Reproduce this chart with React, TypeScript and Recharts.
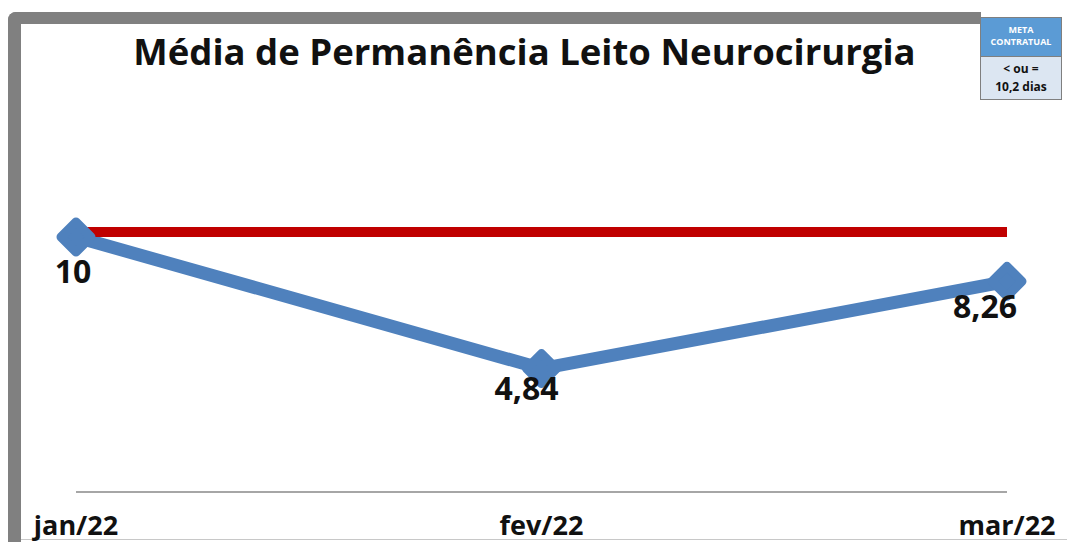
import React from "react";
import { LineChart, Line, XAxis, YAxis, LabelList } from "recharts";

const months = ["jan/22", "fev/22", "mar/22"];
const permanencia = [10, 4.84, 8.26];
const metaContratual = [10.2, 10.2, 10.2];

const data = months.map((m, i) => ({
  month: m,
  valor: permanencia[i],
  meta: metaContratual[i],
}));

const BLUE = "#4f81bd";
const RED = "#c00000";
const FONT = "'Open Sans', 'Liberation Sans', sans-serif";

// label nudges so they sit like the original Excel labels
const labelNudge = [
  { dx: -3, dy: 46 },
  { dx: -15, dy: 31 },
  { dx: -22, dy: 37 },
];

function Diamond(props: any) {
  const { cx, cy } = props;
  if (cx == null || cy == null) return null;
  const r = 15;
  return (
    <polygon
      points={`${cx},${cy - r} ${cx + r},${cy} ${cx},${cy + r} ${cx - r},${cy}`}
      fill={BLUE}
      stroke={BLUE}
      strokeWidth={9}
      strokeLinejoin="round"
    />
  );
}

function ValueLabel(props: any) {
  const { x, y, value, index } = props;
  const n = labelNudge[index] ?? { dx: 0, dy: 30 };
  return (
    <text
      x={x + n.dx}
      y={y + n.dy}
      textAnchor="middle"
      fontFamily={FONT}
      fontWeight={700}
      fontSize={32}
      fill="#111"
    >
      {String(value).replace(".", ",")}
    </text>
  );
}

function MonthTick(props: any) {
  const { x, y, payload } = props;
  return (
    <text
      x={x}
      y={y + 43}
      textAnchor="middle"
      fontFamily={FONT}
      fontWeight={700}
      fontSize={27}
      fill="#111"
    >
      {payload.value}
    </text>
  );
}

export default function App() {
  return (
    <div
      style={{
        position: "absolute",
        left: 0,
        top: 0,
        width: 1067,
        height: 542,
        background: "#fff",
        overflow: "hidden",
      }}
    >
      {/* grey frame */}
      <div
        style={{
          position: "absolute",
          left: 8,
          top: 12,
          width: 973,
          height: 540,
          borderLeft: "13px solid #808080",
          borderTop: "12px solid #808080",
          borderTopLeftRadius: 8,
          boxSizing: "border-box",
        }}
      />
      <div
        style={{
          position: "absolute",
          left: 21,
          top: 539,
          width: 1046,
          height: 1,
          background: "#c8c8c8",
        }}
      />

      <LineChart
        width={1067}
        height={542}
        data={data}
        margin={{ top: 186, right: 60, bottom: 0, left: 76 }}
        style={{ position: "absolute", left: 0, top: 0 }}
      >
        <XAxis
          dataKey="month"
          height={50}
          tickLine={false}
          tickSize={0}
          tickMargin={0}
          axisLine={{ stroke: "#a6a6a6", strokeWidth: 2 }}
          tick={<MonthTick />}
          interval={0}
        />
        <YAxis hide domain={[0, 12]} width={0} />
        <Line
          dataKey="valor"
          stroke={BLUE}
          strokeWidth={13}
          strokeLinejoin="round"
          dot={<Diamond />}
          activeDot={false}
          isAnimationActive={false}
        >
          <LabelList dataKey="valor" content={<ValueLabel />} />
        </Line>
        <Line
          dataKey="meta"
          stroke={RED}
          strokeWidth={10}
          dot={false}
          activeDot={false}
          isAnimationActive={false}
        />
      </LineChart>

      {/* title */}
      <div
        style={{
          position: "absolute",
          left: 0,
          top: 29,
          width: 1049,
          textAlign: "center",
          fontFamily: FONT,
          fontWeight: 700,
          fontSize: 36.5,
          color: "#111",
          lineHeight: "44px",
        }}
      >
        Média de Permanência Leito Neurocirurgia
      </div>

      {/* meta box */}
      <div
        style={{
          position: "absolute",
          left: 980,
          top: 17,
          width: 82,
          height: 83,
          border: "1px solid #7f7f7f",
          boxSizing: "border-box",
          fontFamily: FONT,
          textAlign: "center",
        }}
      >
        <div
          style={{
            height: 39,
            background: "#5b9bd5",
            color: "#fff",
            fontSize: 9,
            fontWeight: 700,
            lineHeight: "12px",
            paddingTop: 6,
            boxSizing: "border-box",
            borderBottom: "1px solid #7f7f7f",
          }}
        >
          META
          <br />
          CONTRATUAL
        </div>
        <div
          style={{
            height: 42,
            background: "#dce6f2",
            color: "#111",
            fontSize: 12,
            fontWeight: 700,
            lineHeight: "18px",
            paddingTop: 3,
            boxSizing: "border-box",
          }}
        >
          &lt; ou =
          <br />
          10,2 dias
        </div>
      </div>
    </div>
  );
}
